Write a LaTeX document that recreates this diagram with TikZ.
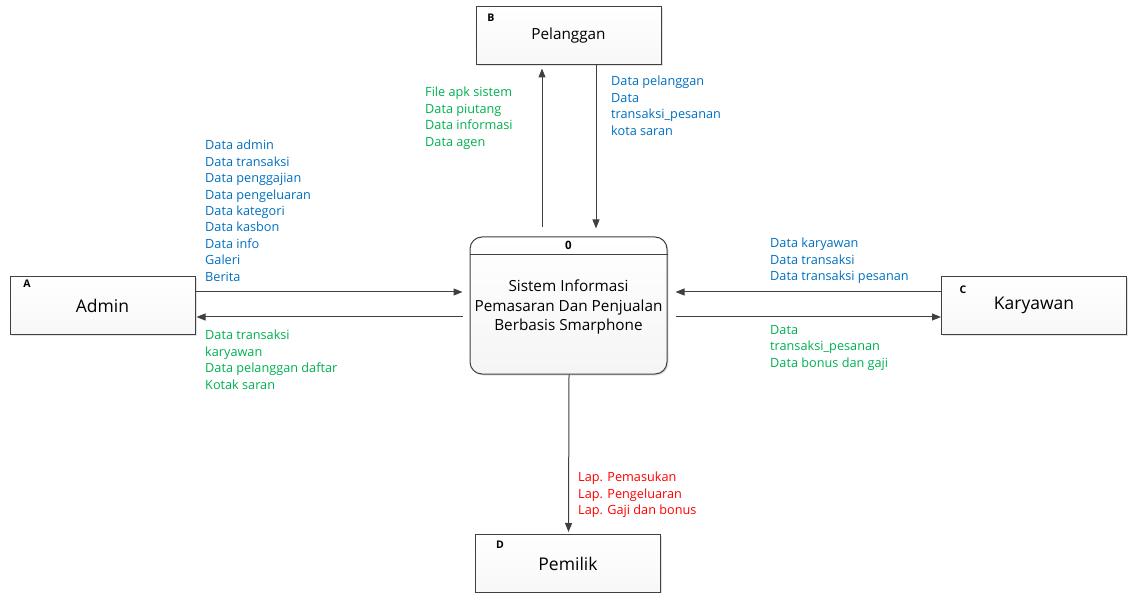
\documentclass[tikz,border=0pt]{standalone}
\usepackage{fontspec}
\setmainfont{Open Sans}
\usetikzlibrary{arrows.meta,shadows}
\definecolor{flowblue}{HTML}{0070C0}
\definecolor{flowgreen}{HTML}{00B050}
\definecolor{flowred}{HTML}{FF0000}
\definecolor{linegray}{HTML}{404040}
\tikzstyle{entity} = [rectangle, draw=linegray, line width=1pt, top color=white, bottom color=gray!6,
    minimum width=185pt, minimum height=58pt, font=\fontsize{17.5}{21}\selectfont,
    drop shadow={shadow xshift=1.5pt, shadow yshift=-1.5pt, fill=gray!45}]
\tikzstyle{process} = [rectangle, draw=linegray, line width=1pt, rounded corners=12pt, top color=white, bottom color=gray!8,
    minimum width=197pt, minimum height=137pt,
    drop shadow={shadow xshift=1.5pt, shadow yshift=-1.5pt, fill=gray!45}]
\tikzstyle{tag} = [font=\fontsize{10.5}{13}\selectfont\bfseries, inner sep=0pt]
\tikzstyle{flowlabel} = [anchor=north west, align=left, inner sep=0pt, font=\fontsize{12.7}{16.4}\selectfont]

\begin{document}
\begin{tikzpicture}[x=1pt,y=-1pt,flow/.style={draw=linegray, line width=1pt, -{Triangle[length=9pt,width=7pt]}}]
  \useasboundingbox (0,0) rectangle (1129,593);

  \node[entity]  (A) at (102.5,305.5) {Admin};
  \node[entity, font=\fontsize{15.3}{19}\selectfont]  (B) at (568.5,36) {Pelanggan};
  \node[entity]  (C) at (1034,305.5)  {Karyawan};
  \node[entity]  (D) at (568,563.5)   {Pemilik};
  \node[tag] (tagA) at (27,284)  {A};
  \node[tag] (tagB) at (491,18)  {B};
  \node[tag] (tagC) at (963,290) {C};
  \node[tag] (tagD) at (500,545) {D};

  \node[process] (P) at (568.5,305.5) {};
  \draw[linegray, line width=1pt] ([yshift=-18pt]P.north west) -- ([yshift=-18pt]P.north east);
  \node[tag, font=\fontsize{11.5}{14}\selectfont\bfseries] (P0) at (568.5,245) {0};
  \node[align=center, font=\fontsize{15.3}{19.5}\selectfont] (Ptext) at (568.5,307)
    {Sistem Informasi\\Pemasaran Dan Penjualan\\Berbasis Smarphone};

  % flows
  \draw[flow, shorten <=9pt, shorten >=3pt] ([xshift=-26.5pt]P.north) -- ([xshift=-26.5pt]B.south);
  \draw[flow, shorten >=8pt] ([xshift=27.5pt]B.south) -- ([xshift=27.5pt]P.north);
  \draw[flow, shorten >=7pt] ([yshift=13.5pt]A.east) -- ([yshift=13.5pt]P.west);
  \draw[flow, shorten <=7pt, shorten >=1pt] ([yshift=-11.5pt]P.west) -- ([yshift=-11.5pt]A.east);
  \draw[flow, shorten >=8pt] ([yshift=13.5pt]C.west) -- ([yshift=13.5pt]P.east);
  \draw[flow, shorten <=8pt] ([yshift=-11.5pt]P.east) -- ([yshift=-11.5pt]C.west);
  \draw[flow, shorten >=2pt] ([xshift=0.5pt]P.south) -- ([xshift=0.5pt]D.north);

  % labels
  \node[flowlabel, text=flowblue] (lA1) at (205,140)
    {Data admin\\Data transaksi\\Data penggajian\\Data pengeluaran\\Data kategori\\Data kasbon\\Data info\\Galeri\\Berita};
  \node[flowlabel, text=flowgreen] (lA2) at (205,330)
    {Data transaksi\\karyawan\\Data pelanggan daftar\\Kotak saran};
  \node[flowlabel, text=flowgreen] (lB1) at (425,87)
    {File apk sistem\\Data piutang\\Data informasi\\Data agen};
  \node[flowlabel, text=flowblue] (lB2) at (611,76)
    {Data pelanggan\\Data\\transaksi\_pesanan\\kota saran};
  \node[flowlabel, text=flowblue] (lC1) at (770,238)
    {Data karyawan\\Data transaksi\\Data transaksi pesanan};
  \node[flowlabel, text=flowgreen] (lC2) at (770,325)
    {Data\\transaksi\_pesanan\\Data bonus dan gaji};
  \node[flowlabel, text=flowred] (lD) at (578,472)
    {Lap. Pemasukan\\Lap. Pengeluaran\\Lap. Gaji dan bonus};
\end{tikzpicture}
\end{document}
